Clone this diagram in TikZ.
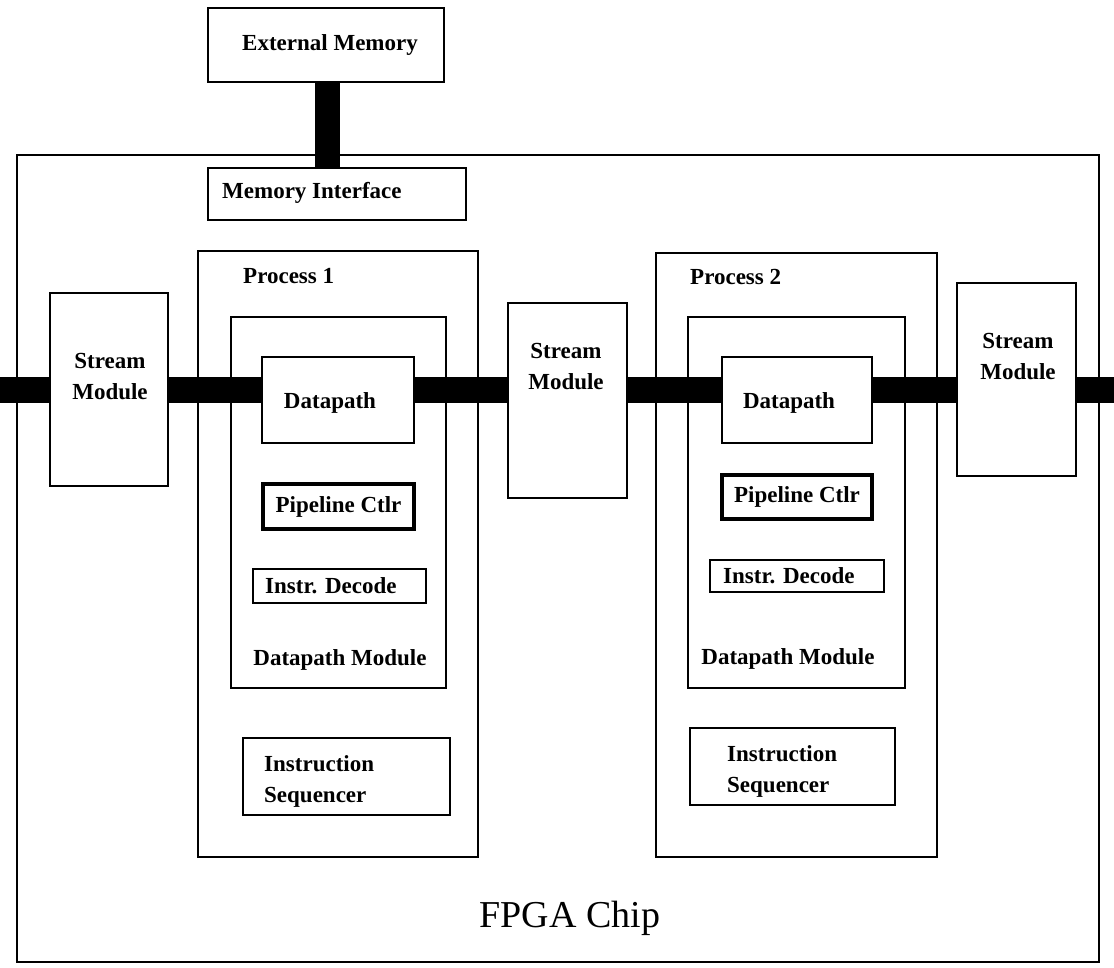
\documentclass[tikz,border=0pt]{standalone}
\usepackage{fontspec}
\setmainfont{Liberation Serif}
\begin{document}
\begin{tikzpicture}[x=1pt,y=-1pt]
\tikzset{
  box/.style={draw=black, line width=2pt, fill=white, rectangle, inner sep=0pt},
  thickbox/.style={box, line width=3.5pt},
  lbl/.style={font=\bfseries\fontsize{23}{31}\selectfont, inner sep=0pt},
  bus/.style={line width=26pt, black},
  vbus/.style={line width=25pt, black}
}
\useasboundingbox[fill=white] (0,0) rectangle (1114,968);
% outer chip
\node[box, minimum width=1082pt, minimum height=807pt] (chip) at (558,558.5) {};
\node[box, minimum width=236pt, minimum height=74pt] (extmem) at (326,45) {};
\node[box, minimum width=258pt, minimum height=52pt] (memif) at (337,194) {};
\node[box, minimum width=280pt, minimum height=606pt] (proc1) at (338,554) {};
\node[box, minimum width=281pt, minimum height=604pt] (proc2) at (796.5,555) {};
\node[box, minimum width=118pt, minimum height=193pt] (sm1) at (109,389.5) {};
\node[box, minimum width=119pt, minimum height=195pt] (sm2) at (567.5,400.5) {};
\node[box, minimum width=119pt, minimum height=193pt] (sm3) at (1016.5,379.5) {};
\node[box, minimum width=215pt, minimum height=371pt] (dpm1) at (338.5,502.5) {};
\node[box, minimum width=217pt, minimum height=371pt] (dpm2) at (796.5,502.5) {};
\node[box, line width=2.5pt, minimum width=152pt, minimum height=86pt] (dp1) at (338,400) {};
\node[box, line width=2.5pt, minimum width=150pt, minimum height=86pt] (dp2) at (797,400) {};
\node[thickbox, minimum width=151pt, minimum height=45pt] (pc1) at (338.5,506.5) {};
\node[thickbox, minimum width=150pt, minimum height=44pt] (pc2) at (797,497) {};
\node[box, minimum width=173pt, minimum height=34pt] (id1) at (339.5,586) {};
\node[box, minimum width=174pt, minimum height=32pt] (id2) at (797,576) {};
\node[box, line width=2.5pt, minimum width=207pt, minimum height=77pt] (is1) at (346.5,776.5) {};
\node[box, line width=2.5pt, minimum width=205pt, minimum height=77pt] (is2) at (792.5,766.5) {};
% buses
\coordinate (busL) at (0,390);
\coordinate (busR) at (1114,390);
\draw[bus] (busL) -- (busL -| sm1.west);
\draw[bus] (sm1.east |- busL) -- (dp1.west |- busL);
\draw[bus] (dp1.east |- busL) -- (sm2.west |- busL);
\draw[bus] (sm2.east |- busL) -- (dp2.west |- busL);
\draw[bus] (dp2.east |- busL) -- (sm3.west |- busL);
\draw[bus] (sm3.east |- busL) -- (busR);
\draw[vbus] ([xshift=1.5pt]extmem.south) -- ([xshift=1.5pt]extmem.south |- memif.north);
% labels
\node[lbl] (t-extmem) at (330,45) {External Memory};
\node[lbl, anchor=west] (t-memif) at (222,193) {Memory Interface};
\node[lbl, anchor=west] (t-proc1) at (243,276) {Process 1};
\node[lbl, anchor=west] (t-proc2) at (690,277) {Process 2};
\node[lbl, align=center] (t-sm1) at (110,377) {Stream\\Module};
\node[lbl, align=center] (t-sm2) at (566,367) {Stream\\Module};
\node[lbl, align=center] (t-sm3) at (1018,357) {Stream\\Module};
\node[lbl] (t-dp1) at (330,403) {Datapath};
\node[lbl] (t-dp2) at (789,403) {Datapath};
\node[lbl] (t-pc1) at (338.5,507) {Pipeline Ctlr};
\node[lbl] (t-pc2) at (797,497) {Pipeline Ctlr};
\node[lbl, anchor=west] (t-id1) at (265,586) {Instr. Decode};
\node[lbl, anchor=west] (t-id2) at (723,576) {Instr. Decode};
\node[lbl] (t-dpm1) at (340,660) {Datapath Module};
\node[lbl] (t-dpm2) at (788,659) {Datapath Module};
\node[lbl, anchor=west, align=left] (t-is1) at (264,781) {Instruction\\Sequencer};
\node[lbl, anchor=west, align=left] (t-is2) at (727,771) {Instruction\\Sequencer};
\node[font=\fontsize{38}{44}\selectfont, inner sep=0pt] (t-chip) at (570,918) {FPGA Chip};
\end{tikzpicture}
\end{document}
